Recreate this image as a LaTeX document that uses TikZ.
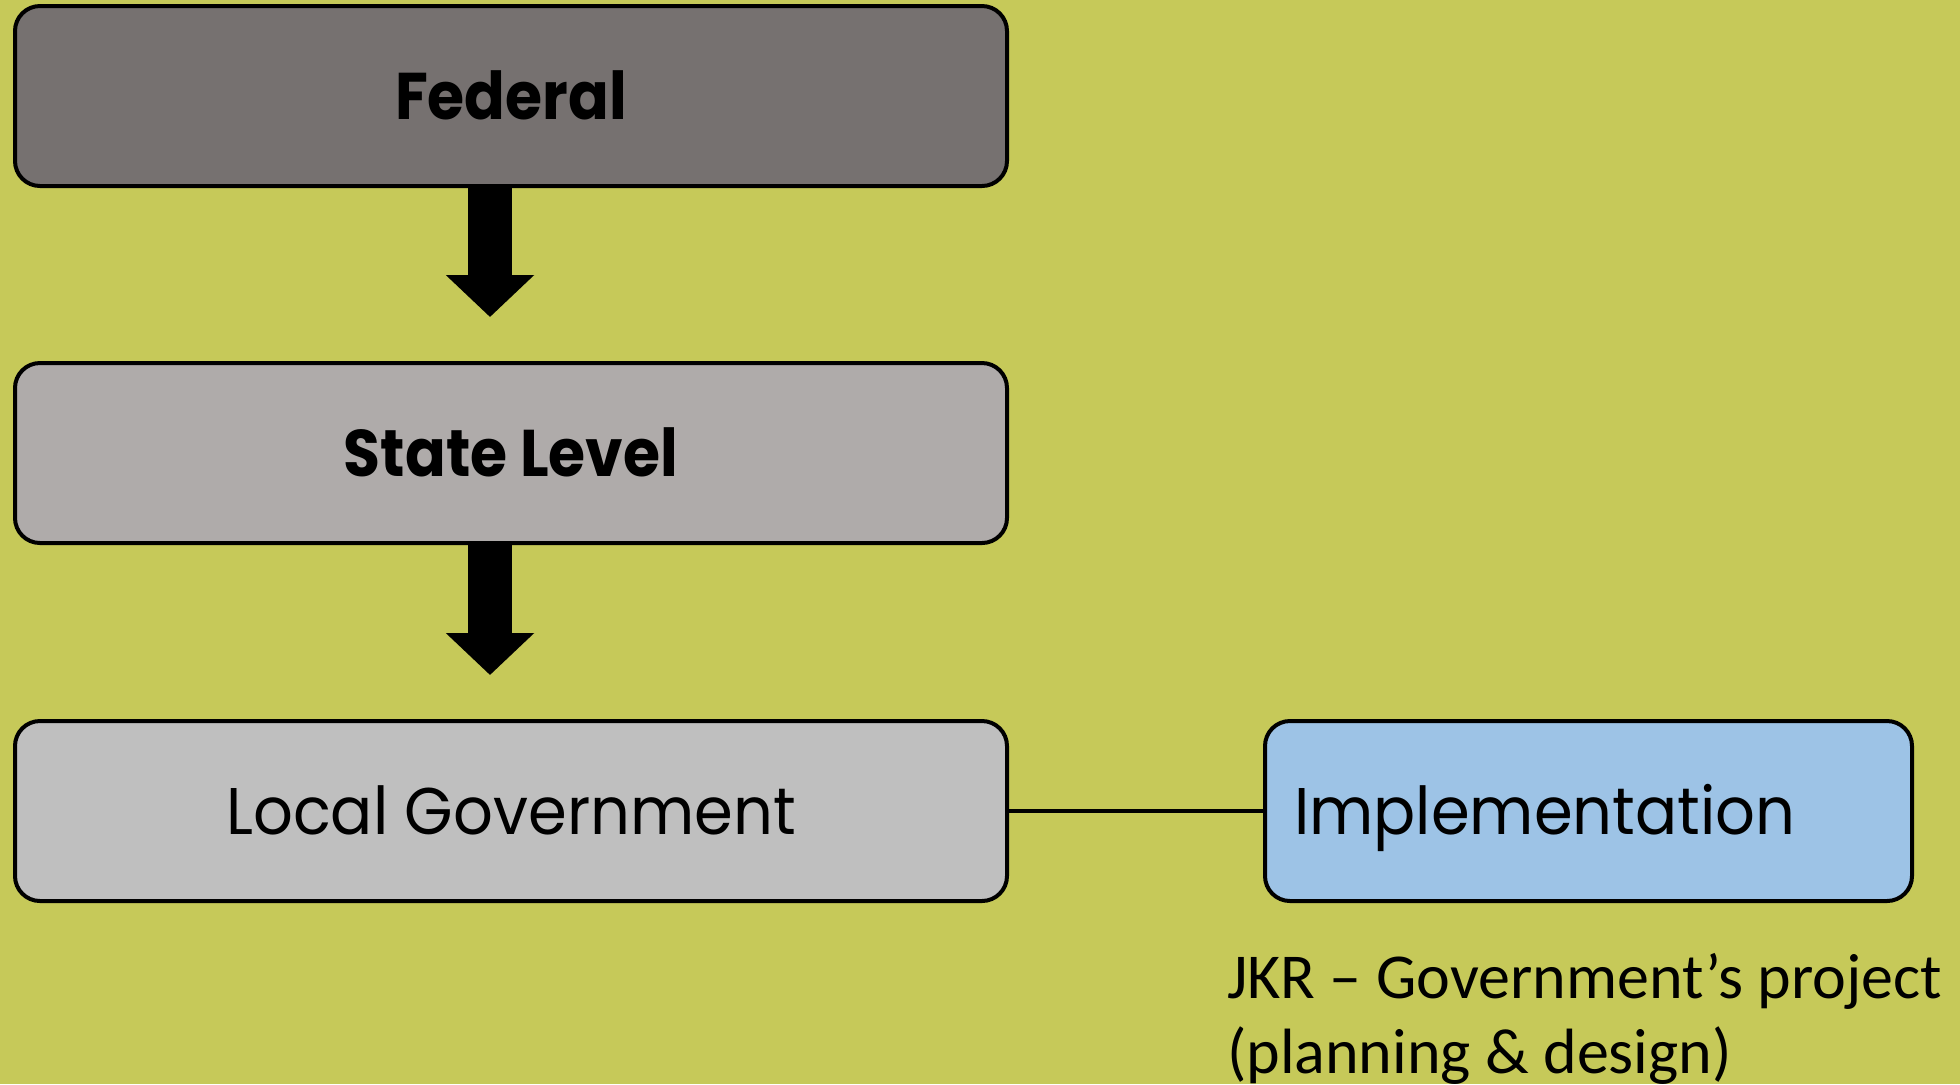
\documentclass[tikz,border=0pt]{standalone}
\usepackage{fontspec}
\setmainfont{Poppins}
\newfontfamily\boxfont[FakeStretch=0.945]{Poppins}
\newfontfamily\boxboldfont[FakeStretch=0.91]{Poppins}
\newfontfamily\notefont{Carlito}
\usetikzlibrary{arrows.meta,positioning}

\definecolor{bgolive}{RGB}{198,201,89}
\definecolor{fedgrey}{RGB}{118,113,112}
\definecolor{stategrey}{RGB}{175,171,170}
\definecolor{localgrey}{RGB}{191,191,191}
\definecolor{implblue}{RGB}{157,195,230}

\begin{document}
\begin{tikzpicture}[x=0.5pt, y=-0.5pt,
  every node/.style = {shape=rectangle, rounded corners=12.5pt,
    draw, line width=2pt, align=center,
    minimum width=496pt, minimum height=90pt,
    text height=23pt, text depth=0pt,
    font=\boxfont\fontsize{33}{40}\selectfont},
  boldlevel/.style = {font=\boxboldfont\fontsize{33}{40}\selectfont\bfseries},
  downarrow/.style = {-{Triangle[width=43pt,length=21pt]},
    line width=22pt, shorten >=22pt}]
  \fill[bgolive] (0,0) rectangle (1960,1084);
  \useasboundingbox (0,0) rectangle (1960,1084);

  \node[fill=fedgrey, boldlevel] (fed) at (511,96) {Federal};
  \node[fill=stategrey, boldlevel] (state) at (511,453) {State Level};
  \node[fill=localgrey] (local) at (511,811) {Local Government};
  \node[fill=implblue, minimum width=0pt, text width=294.5pt,
    inner xsep=14.5pt, align=left] (impl) at (1588.5,811) {Implementation};

  \draw[downarrow] ([xshift=-10.5pt]fed.south) -- ([xshift=-10.5pt]state.north);
  \draw[downarrow] ([xshift=-10.5pt]state.south) -- ([xshift=-10.5pt]local.north);
  \draw[line width=2pt] (local.east) -- (impl.west);

  % note under the implementation box
  \node[draw=none, rounded corners=0pt, minimum width=0pt, minimum height=0pt,
    text height=, text depth=, inner sep=0pt, anchor=base west, align=left,
    font=\notefont\fontsize{32}{37.5}\selectfont] (jkr) at (1225,1073)
    {JKR – Government’s project\\(planning \& design)};
\end{tikzpicture}
\end{document}
